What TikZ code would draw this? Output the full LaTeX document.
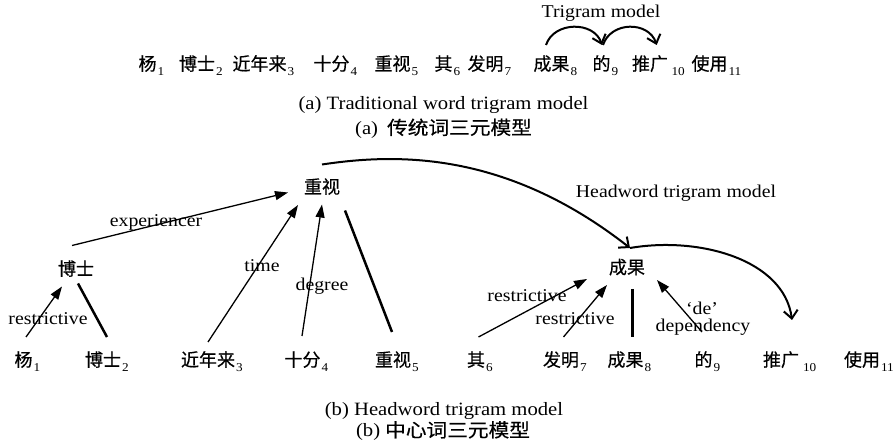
\documentclass[tikz,border=0pt]{standalone}
\usepackage{fontspec}
\setmainfont{Liberation Serif}[FakeStretch=1.1]
\newfontfamily\zh{Noto Sans CJK SC}[FakeBold=0.45]
\newfontfamily\zhcap{Noto Sans CJK SC}[FakeStretch=1.1,FakeBold=0.45]
\usetikzlibrary{arrows.meta}
\newcommand\wrd[2]{#1\rlap{\kern1pt\raisebox{-5pt}{\normalfont\fontsize{12}{13}\selectfont #2}}}
\tikzset{
  zhw/.style={font=\zh\fontsize{18}{20}\selectfont, inner sep=0pt, text height=14.8pt, text depth=1pt},
  lab/.style={font=\fontsize{18}{21}\selectfont, inner sep=0pt, anchor=base},
  captxt/.style={font=\fontsize{18.8}{22}\selectfont, inner sep=0pt, anchor=base},
  rel/.style={-{Triangle[length=13pt,width=9pt]}, line width=1.3pt},
  tie/.style={line width=2.5pt},
  model/.style={-{Straight Barb[length=8pt,width=14pt,line width=2pt]}, line width=2pt},
}
\begin{document}
\begin{tikzpicture}[x=1pt,y=-1pt]
\path[use as bounding box] (0,0) rectangle (895,443);
% ---------- (a) ----------
\node[zhw] (a1) at (147.5,63.5) {\wrd{杨}{1}};
\node[zhw] (a2) at (197,63.5) {\wrd{博士}{2}};
\node[zhw] (a3) at (259.5,63.5) {\wrd{近年来}{3}};
\node[zhw] (a4) at (331.5,63.5) {\wrd{十分}{4}};
\node[zhw] (a5) at (392.5,63.5) {\wrd{重视}{5}};
\node[zhw] (a6) at (443.5,63.5) {\wrd{其}{6}};
\node[zhw] (a7) at (485.5,63.5) {\wrd{发明}{7}};
\node[zhw] (a8) at (551.5,63.5) {\wrd{成果}{8}};
\node[zhw] (a9) at (601.5,63.5) {\wrd{的}{9}};
\node[zhw] (a10) at (650,63.5) {\wrd{推广}{\kern2.5pt 10}};
\node[zhw] (a11) at (709.5,63.5) {\wrd{使用}{11}};
\node[lab] (ltri) at (601,17.5) {Trigram model};
\draw[model] ([shift={(-5.5,-18.5)}]a8.center) .. controls +(8,-24) and +(-8,-24) .. ([shift={(0.5,-18.5)}]a9.center);
\draw[model] ([shift={(1.5,-18.5)}]a9.center) .. controls +(8,-24) and +(-8,-24) .. ([shift={(6.7,-18.5)}]a10.center);
\node[captxt] (capa1) at (443.5,109.5) {(a) Traditional word trigram model};
\node[captxt] (capa2) at (443.5,134.5) {(a)\hspace{9pt}{\zhcap 传统词三元模型}};
% ---------- (b) ----------
\node[zhw] (h1) at (322,186.5) {重视};
\node[zhw] (h2) at (76,268.5) {博士};
\node[zhw] (h3) at (627,267) {成果};
\node[zhw] (b1) at (23.5,359.5) {\wrd{杨}{1}};
\node[zhw] (b2) at (103,359.5) {\wrd{博士}{2}};
\node[zhw] (b3) at (208,359.5) {\wrd{近年来}{3}};
\node[zhw] (b4) at (302.5,359.5) {\wrd{十分}{4}};
\node[zhw] (b5) at (393,359.5) {\wrd{重视}{5}};
\node[zhw] (b6) at (476,359.5) {\wrd{其}{6}};
\node[zhw] (b7) at (561,359.5) {\wrd{发明}{7}};
\node[zhw] (b8) at (625.5,359.5) {\wrd{成果}{8}};
\node[zhw] (b9) at (703.5,359.5) {\wrd{的}{9}};
\node[zhw] (b10) at (781,359.5) {\wrd{推广}{\kern3pt 10}};
\node[zhw] (b11) at (862,359.5) {\wrd{使用}{11}};
% relations
\draw[rel] ([shift={(-4,-23)}]h2.center) -- ([shift={(-34,6)}]h1.center);
\draw[rel] ([shift={(0,-17.5)}]b3.center) -- ([shift={(-24,18.5)}]h1.center);
\draw[rel] ([shift={(-0.5,-23.5)}]b4.center) -- ([shift={(0,18)}]h1.center);
\draw[tie] ([shift={(23,24)}]h1.center) -- ([shift={(-1,-27.5)}]b5.center);
\draw[rel] ([shift={(2.5,-22.5)}]b1.center) -- ([shift={(-14,18)}]h2.center);
\draw[tie] ([shift={(2,15)}]h2.center) -- ([shift={(4,-22.5)}]b2.center);
\draw[rel] ([shift={(2.5,-22.5)}]b6.center) -- ([shift={(-40,12)}]h3.center);
\draw[rel] ([shift={(2.5,-22.5)}]b7.center) -- ([shift={(-20,18)}]h3.center);
\draw[tie] ([shift={(5.7,22)}]h3.center) -- ([shift={(7.2,-22.5)}]b8.center);
\draw[rel] ([shift={(-1.5,-27.5)}]b9.center) -- ([shift={(30,13)}]h3.center);
% headword trigram curves
\draw[model] ([shift={(0,-22)}]h1.center) .. controls +(73,-11) and +(-125,-98) .. ([shift={(3,-19)}]h3.center);
\draw[model] ([shift={(3,-19)}]h3.center) .. controls +(70,-12) and +(-8,-60) .. ([shift={(11,-39.5)}]b10.center);
% labels
\node[lab] (lexp) at (156,227) {experiencer};
\node[lab] (ltime) at (262,271.5) {time};
\node[lab] (ldeg) at (322,290.5) {degree};
\node[lab] (lres1) at (48,325) {restrictive};
\node[lab] (lres2) at (527,301.5) {restrictive};
\node[lab] (lres3) at (575,325) {restrictive};
\node[lab] (lde) at (702,315) {`de'};
\node[lab] (ldep) at (703,331.5) {dependency};
\node[lab] (lhead) at (676,197.5) {Headword trigram model};
\node[captxt] (capb1) at (444,416) {(b) Headword trigram model};
\node[captxt] (capb2) at (443,437) {(b)\hspace{5pt}{\zhcap 中心词三元模型}};
\end{tikzpicture}
\end{document}
